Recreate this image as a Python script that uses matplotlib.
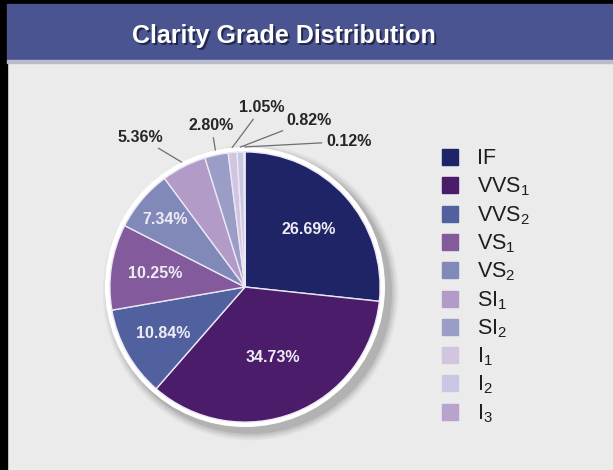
import numpy as np
import matplotlib.pyplot as plt
from matplotlib.patches import Circle, Rectangle

plt.rcParams['font.family'] = ['Liberation Sans', 'DejaVu Sans']
plt.rcParams['mathtext.default'] = 'regular'

# clarity grades, share of stones (%)
grades = ['IF', 'VVS$_1$', 'VVS$_2$', 'VS$_1$', 'VS$_2$',
          'SI$_1$', 'SI$_2$', 'I$_1$', 'I$_2$', 'I$_3$']
shares = [26.69, 34.73, 10.84, 10.25, 7.34, 5.36, 2.80, 1.05, 0.82, 0.12]
colors = ['#1f2466', '#4a1c6a', '#51609e', '#835a9b', '#8189b8',
          '#b39bc8', '#9a9ec7', '#d1c5e0', '#c9c8e4', '#b7a3cc']

W, H = 613, 470
fig = plt.figure(figsize=(W / 100, H / 100), dpi=100)

# background, border and title banner (pixel coords)
bg = fig.add_axes([0, 0, 1, 1])
bg.set_xlim(0, W)
bg.set_ylim(H, 0)
bg.axis('off')
bg.add_patch(Rectangle((0, 0), W, H, color='#ebebeb'))
bg.add_patch(Rectangle((0, 0), 7, H, color='black'))
bg.add_patch(Rectangle((0, 0), W, 4, color='black'))
bg.add_patch(Rectangle((7, 4), W - 7, 56, color='#4a5490'))
bg.add_patch(Rectangle((7, 60), W - 7, 3, color='#b9bccd'))
bg.text(285.5, 37.5, 'Clarity Grade Distribution', fontsize=18, fontweight='bold',
        color='#1a1f3c', ha='center', va='center', alpha=0.8)
bg.text(284, 36, 'Clarity Grade Distribution', fontsize=18, fontweight='bold',
        color='white', ha='center', va='center')

# pie axes: center at (245, 287) px, outer radius 140 px
cx, cy, R, half = 245, 287, 140, 200
ax = fig.add_axes([(cx - half) / W, (H - cy - half) / H, 2 * half / W, 2 * half / H])

# soft shadow + white rim
for r, a in [(1.055, 0.05), (1.04, 0.07), (1.025, 0.09), (1.01, 0.12)]:
    ax.add_patch(Circle((0.04, -0.04), r, fc='#303030', ec='none', alpha=a, zorder=0))
ax.add_patch(Circle((0, 0), 1.0, fc='white', ec='none', zorder=1))

wedges, _ = ax.pie(
    shares, colors=colors, startangle=90, counterclock=False, radius=0.965,
    wedgeprops=dict(edgecolor='#ece6f4', linewidth=1.0))
for w in wedges:
    w.set_zorder(2)

# labels inside the big slices
in_rad = {0: 0.61, 1: 0.54, 2: 0.67, 3: 0.65, 4: 0.75}
for i, r in in_rad.items():
    w = wedges[i]
    ang = np.deg2rad((w.theta1 + w.theta2) / 2)
    ax.text(r * np.cos(ang), r * np.sin(ang), f'{shares[i]:.2f}%', ha='center', va='center',
            fontsize=11.5, fontweight='bold', color='#eeedf5', zorder=3)

# outside labels for the small slices
out_pos = {5: (-0.75, 1.07), 6: (-0.24, 1.15), 7: (0.12, 1.28), 8: (0.46, 1.19), 9: (0.74, 1.04)}
for i, (tx, ty) in out_pos.items():
    w = wedges[i]
    ang = np.deg2rad((w.theta1 + w.theta2) / 2)
    ax.annotate(f'{shares[i]:.2f}%', xy=(np.cos(ang), np.sin(ang)), xytext=(tx, ty),
                ha='center', va='center', fontsize=11.5, fontweight='bold', color='#262626',
                arrowprops=dict(arrowstyle='-', color='#6e6e6e', lw=0.9,
                                shrinkA=1, shrinkB=0), zorder=4)

ax.set_xlim(-half / R, half / R)
ax.set_ylim(-half / R, half / R)
ax.axis('off')

# legend drawn by hand
y0, step = 157, 28.3
for k, (g, c) in enumerate(zip(grades, colors)):
    y = y0 + k * step
    bg.add_patch(Rectangle((442, y - 8), 16, 16, color=c))
    bg.text(477, y + 7.5, g, fontsize=15.5, color='#1e1e1e', ha='left', va='baseline')

fig.savefig('out.png', dpi=100)
